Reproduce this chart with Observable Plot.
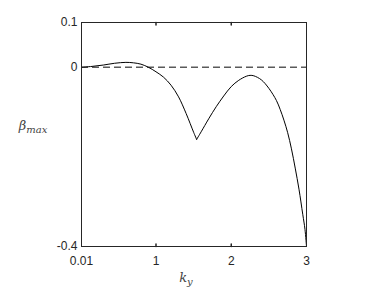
<!DOCTYPE html>
<html><head><meta charset="utf-8">
<script src="https://cdn.jsdelivr.net/npm/d3@7"></script>
<script src="https://cdn.jsdelivr.net/npm/@observablehq/plot@0.6"></script>
<style>body{margin:0;background:#fff}</style>
</head><body><div id="chart"></div>
<script>
const ky = [0.01,0.15,0.3,0.45,0.6,0.7,0.8,0.9,1.0,1.1,1.2,1.3,1.4,1.5,1.54,1.6,1.7,1.8,1.9,2.0,2.1,2.2,2.25,2.3,2.4,2.5,2.6,2.65,2.7,2.75,2.8,2.85,2.9,2.95,2.98,3.0];
const betaMax = [0,0.002,0.005,0.009,0.011,0.010,0.007,0.000,-0.010,-0.022,-0.040,-0.066,-0.103,-0.145,-0.161,-0.144,-0.115,-0.088,-0.064,-0.043,-0.029,-0.020,-0.018,-0.019,-0.028,-0.047,-0.074,-0.094,-0.118,-0.146,-0.182,-0.225,-0.272,-0.328,-0.362,-0.400];
const xTicks = [0.01,1,2,3];
const yTicks = [-0.4,0,0.1];
const cuspK = 1.54;
const data = [];
ky.forEach((k,i) => {
  if (k <= cuspK) data.push({k, b: betaMax[i], seg: "a"});
  if (k >= cuspK) data.push({k, b: betaMax[i], seg: "b"});
});
const tickShape = {draw(ctx, l){ctx.moveTo(0,0); ctx.lineTo(0,-l);}};
const axisColor = "#262626";
const chart = Plot.plot({
  width: 374, height: 291,
  marginLeft: 81, marginRight: 68, marginTop: 22, marginBottom: 45,
  style: {fontFamily: "'Liberation Sans', Arial, sans-serif", fontSize: "12px", color: axisColor, background: "#fff"},
  x: {domain: [0.01, 3], ticks: xTicks, tickFormat: d => String(d)},
  y: {domain: [-0.4, 0.1], ticks: yTicks, tickFormat: d => String(d)},
  marks: [
    Plot.ruleY([0], {stroke: "#5a5a5a", strokeWidth: 1.5, strokeDasharray: "7,4"}),
    Plot.line(data, {x: "k", y: "b", z: "seg", stroke: "#000", strokeWidth: 1, curve: "catmull-rom"}),
    Plot.frame({stroke: axisColor, strokeWidth: 1}),
    Plot.axisX({ticks: xTicks, tickSize: 0, tickPadding: 10, label: null, tickFormat: d => String(d), fontSize: 12}),
    Plot.axisY({ticks: yTicks, tickSize: 0, tickPadding: 4, label: null, tickFormat: d => String(d), fontSize: 12}),
    Plot.vector([1,2], {x: d => d, frameAnchor: "bottom", length: 2.5, rotate: 0, anchor: "start", shape: tickShape, stroke: axisColor}),
    Plot.vector([1,2], {x: d => d, frameAnchor: "top", length: 2.5, rotate: 180, anchor: "start", shape: tickShape, stroke: axisColor})
  ]
});
document.getElementById("chart").append(chart);
const svg = d3.select(chart);
const yl = svg.append("text").attr("x", 33).attr("y", 130)
  .attr("font-family", "'DejaVu Serif', 'Liberation Serif', serif").attr("font-style", "italic").attr("fill", "#444").attr("font-size", 13);
yl.append("tspan").text("β");
yl.append("tspan").attr("font-size", 10).attr("dy", 3).text("max");
const xl = svg.append("text").attr("x", 186).attr("y", 282)
  .attr("font-family", "'DejaVu Serif', 'Liberation Serif', serif").attr("font-style", "italic").attr("fill", "#444").attr("font-size", 13);
xl.append("tspan").text("k");
xl.append("tspan").attr("font-size", 10).attr("dy", 3).text("y");
</script></body></html>
